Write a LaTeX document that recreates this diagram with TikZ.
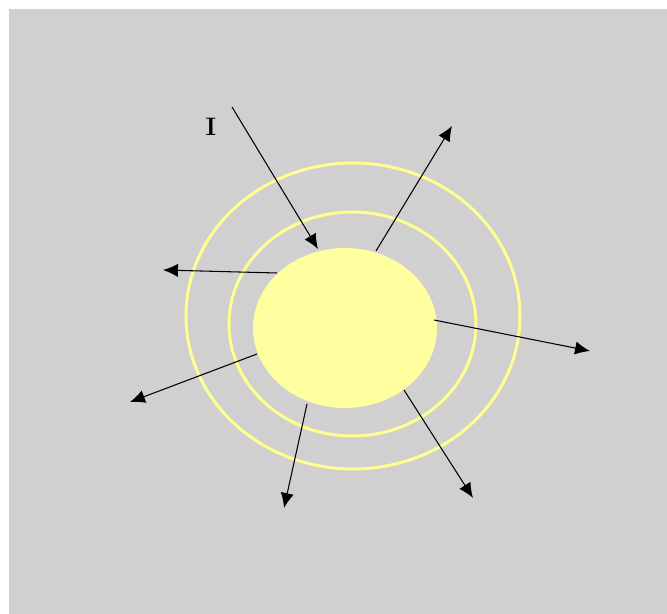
\documentclass[tikz,border=0pt]{standalone}
\usepackage{xcolor}
\usepackage{tikz}
\usetikzlibrary{arrows.meta, shapes.geometric}
\definecolor{bggray}{HTML}{D0D0D0}
\definecolor{sunyellow}{HTML}{FFFFA0}
\definecolor{ringyellow}{HTML}{FFFF90}

\begin{document}
\begin{tikzpicture}[
  x=0.02cm, y=-0.02cm,
  ring/.style={draw=ringyellow, line width=1.7pt},
  sunbody/.style={ellipse, fill=sunyellow, inner sep=0pt, minimum width=3.68cm, minimum height=3.2cm},
  ray/.style={-{Latex[length=8.5pt, width=7.5pt]}, line width=0.6pt, color=black}
]
\useasboundingbox (0,0) rectangle (667,614);
\fill[bggray] (9,9) rectangle (667,614);

\draw[ring] (353,316) ellipse [x radius=167, y radius=153];
\draw[ring] (352.5,324) ellipse [x radius=123.5, y radius=112];
\node[sunbody] (sun) at (345,328) {};

\node[font=\Large\bfseries] (label) at (211,127) {I};

% incoming ray
\coordinate (inStart) at (232,107);
\coordinate (inEnd) at (318,249);
\draw[ray] (inStart) -- (inEnd);

% scattered rays
\coordinate (upStart) at (376,251);
\coordinate (upEnd) at (452,126);
\coordinate (leftStart) at (277,273);
\coordinate (leftEnd) at (163,270);
\coordinate (llStart) at (257,354);
\coordinate (llEnd) at (130,402);
\coordinate (rightStart) at (434,320);
\coordinate (rightEnd) at (590,351);
\coordinate (downStart) at (307,404);
\coordinate (downEnd) at (284,508);
\coordinate (drStart) at (404,390);
\coordinate (drEnd) at (473,498);

\draw[ray] (upStart) -- (upEnd);
\draw[ray] (leftStart) -- (leftEnd);
\draw[ray] (llStart) -- (llEnd);
\draw[ray] (rightStart) -- (rightEnd);
\draw[ray] (downStart) -- (downEnd);
\draw[ray] (drStart) -- (drEnd);

\end{tikzpicture}
\end{document}
